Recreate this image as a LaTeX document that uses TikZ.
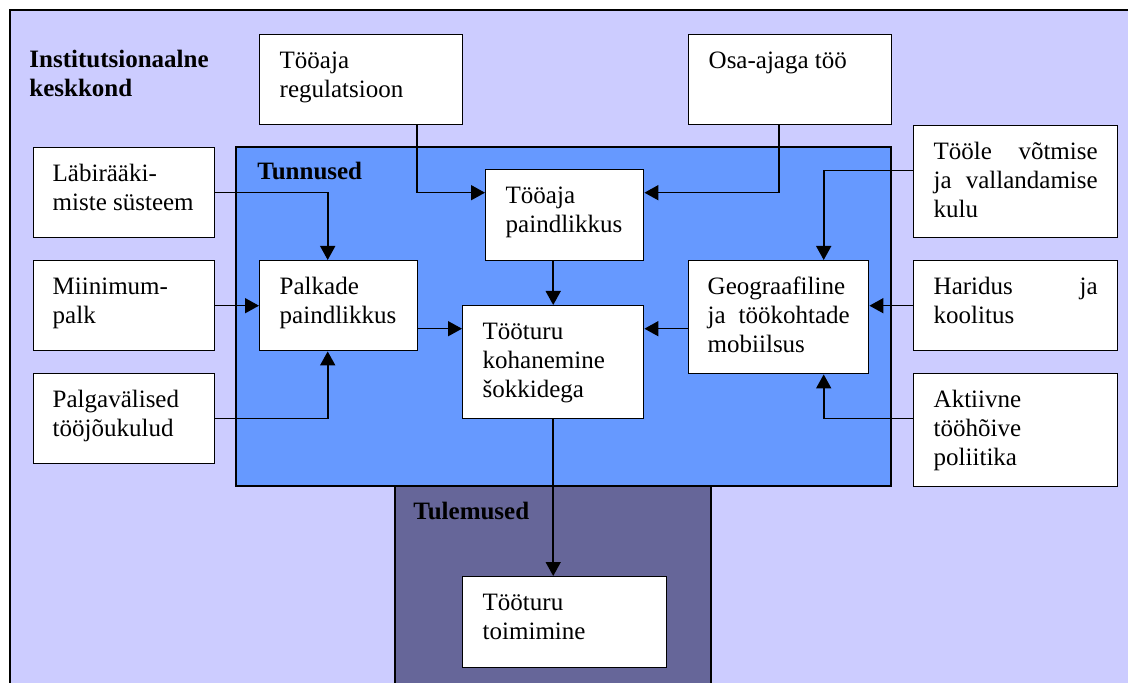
\documentclass[tikz,border=0pt]{standalone}
\usepackage{fontspec}
\setmainfont{Liberation Serif}
\usepackage{tikz}
\usetikzlibrary{arrows.meta, positioning, calc}
\definecolor{envlilac}{HTML}{CCCCFF}
\definecolor{featblue}{HTML}{6699FF}
\definecolor{outslate}{HTML}{666699}

% text of a white box: width, height, lines (top aligned)
\newcommand{\boxtext}[3]{\parbox[t][#2][t]{#1}{\vspace*{6.85pt}\strut#3}}

\begin{document}
\begin{tikzpicture}[x=0.5pt, y=-0.5pt,
    font=\fontsize{12.5}{14.5}\selectfont,
    wbox/.style={draw, fill=white, line width=0.7pt, anchor=north west, inner xsep=10pt, inner ysep=0pt},
    head/.style={anchor=base west, align=left, inner sep=0pt, font=\fontsize{12.5}{14.5}\selectfont\bfseries},
    arr/.style={-{Triangle[length=7pt, width=7.5pt]}, line width=0.8pt},
]
    \clip (0,0) rectangle (1128,683);

    % areas
    \draw[line width=0.8pt, fill=envlilac] (10,10) rectangle (1150,700);
    \draw[line width=0.7pt, fill=outslate] (395,486) rectangle (711,700);
    \draw[line width=0.7pt, fill=featblue] (236,147) rectangle (891,486);

    \node[head] (inst) at (29,97) {Institutsionaalne\\keskkond};
    \node[head] (tun) at (257,180) {Tunnused};
    \node[head] (tul) at (413,519) {Tulemused};

    % institutional factors
    \node[wbox] (reg) at (259,34) {\boxtext{81.5pt}{45pt}{Tööaja\\regulatsioon}};
    \node[wbox] (osa) at (688,34) {\boxtext{81.5pt}{45pt}{Osa-ajaga töö}};
    \node[wbox, inner xsep=9.5pt] (lab) at (33,147) {\boxtext{71.5pt}{45pt}{Läbirääki-\\miste süsteem}};
    \node[wbox, inner xsep=9.5pt] (min) at (33,260) {\boxtext{71.5pt}{45pt}{Miinimum-\\palk}};
    \node[wbox, inner xsep=9.5pt] (palgav) at (33,373) {\boxtext{71.5pt}{45pt}{Palgavälised\\tööjõukulud}};
    \node[wbox] (toole) at (913,125) {\boxtext{82pt}{56pt}{Tööle võtmise\linebreak ja vallandamise\linebreak kulu}};
    \node[wbox] (harid) at (913,260) {\boxtext{82pt}{45pt}{Haridus ja\linebreak koolitus}};
    \node[wbox] (aktiiv) at (913,373) {\boxtext{82pt}{56.5pt}{Aktiivne\\tööhõive\\poliitika}};

    % features
    \node[wbox] (taeg) at (485,169) {\boxtext{59pt}{45.5pt}{Tööaja\\paindlikkus}};
    \node[wbox] (palk) at (259,260) {\boxtext{59pt}{45pt}{Palkade\\paindlikkus}};
    \node[wbox] (kohan) at (462,305) {\boxtext{70.5pt}{56.5pt}{Tööturu\\kohanemine\\šokkidega}};
    \node[wbox, inner xsep=9.5pt] (geo) at (688,260) {\boxtext{71pt}{56.5pt}{Geograafiline\\ ja töökohtade\linebreak mobiilsus}};

    % outcome
    \node[wbox] (toim) at (462,576) {\boxtext{82pt}{45.5pt}{Tööturu\\toimimine}};

    % connectors
    \draw[arr] ([xshift=28pt]reg.south) |- ([yshift=11.25pt]taeg.west);
    \draw[arr] ([xshift=-5.75pt]osa.south) |- ([yshift=11.25pt]taeg.east);
    \draw[arr] (lab.east) -| ([xshift=-5.5pt]palk.north);
    \draw[arr] (min.east) -- (palk.west);
    \draw[arr] (palgav.east) -| ([xshift=-5.5pt]palk.south);
    \draw[arr] ([yshift=-11.5pt]palk.east) -- ([yshift=-11.5pt]palk.east -| kohan.west);
    \draw[arr] (kohan.north |- taeg.south) -- (kohan.north);
    \draw[arr] ([yshift=5.5pt]toole.west) -| ([xshift=22.5pt]geo.north);
    \draw[arr] (harid.west) -- (harid.west -| geo.east);
    \draw[arr] ([yshift=5.75pt]aktiiv.west) -| ([xshift=22.5pt]geo.south);
    \draw[arr] ([yshift=-5.75pt]geo.west) -- ([yshift=-5.75pt]geo.west -| kohan.east);
    \draw[arr] (kohan.south) -- (kohan.south |- toim.north);
\end{tikzpicture}
\end{document}
